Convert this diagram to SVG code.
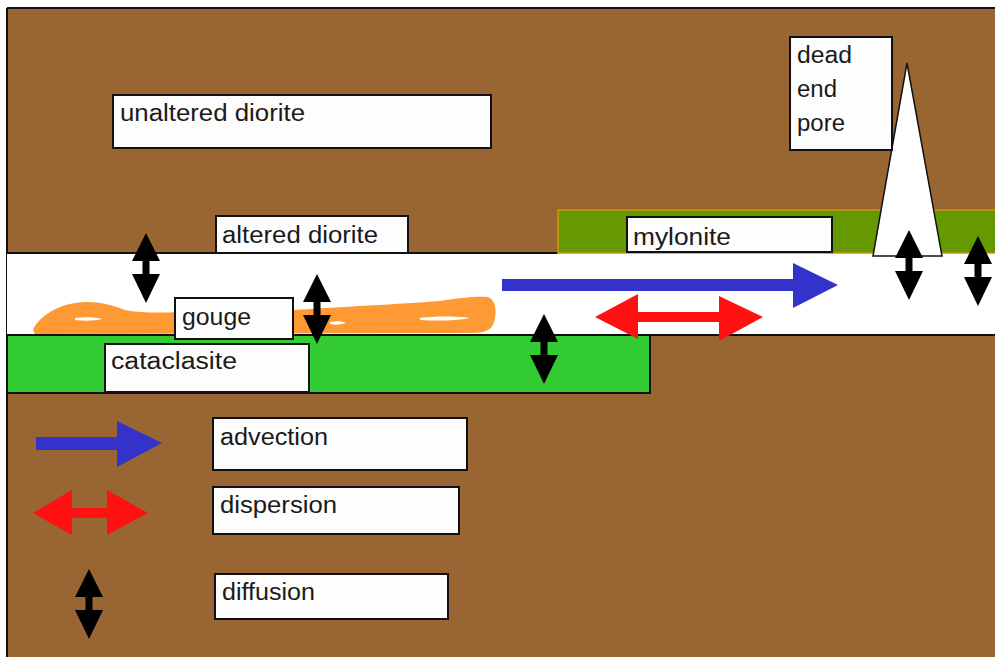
<svg xmlns="http://www.w3.org/2000/svg" xmlns:xlink="http://www.w3.org/1999/xlink" width="995" height="657" viewBox="0 0 995 657">
  <style>
    .rock { fill: #996633; }
    .label rect { fill: #fdfdfd; stroke: #111; stroke-width: 2; }
    .label text { font-family: "Liberation Sans", Arial, sans-serif; font-size: 23px; fill: #1a1a1a; }
    .diff { fill: #000; }
    .adv { fill: #3333cc; }
    .disp { fill: #ff1111; }
  </style>
  <defs>
    <!-- vertical double-headed arrow used for diffusion -->
    <path id="diffArrow" d="M0,-35 L14,-7 L3.5,-7 L3.5,6 L14,6 L0,35 L-14,6 L-3.5,6 L-3.5,-7 L-14,-7 Z"/>
  </defs>

  <rect x="0" y="0" width="995" height="657" fill="#ffffff"/>

  <!-- host rock -->
  <g id="host-rock">
    <rect class="rock" x="7" y="8" width="988" height="649"/>
    <line x1="7" y1="8" x2="995" y2="8" stroke="#111" stroke-width="2"/>
    <line x1="7" y1="8" x2="7" y2="657" stroke="#111" stroke-width="2"/>
  </g>

  <!-- open fracture band -->
  <g id="fracture">
    <rect x="7" y="253" width="988" height="82" fill="#ffffff"/>
    <line x1="7" y1="253" x2="558" y2="253" stroke="#111" stroke-width="2"/>
    <line x1="650" y1="335" x2="995" y2="335" stroke="#111" stroke-width="2"/>
  </g>

  <!-- mylonite layer -->
  <g id="mylonite-layer">
    <rect x="558" y="210" width="440" height="43" fill="#669900" stroke="#cc9900" stroke-width="1.5"/>
  </g>

  <!-- cataclasite layer -->
  <g id="cataclasite-layer">
    <rect x="7" y="335" width="643" height="58" fill="#33cc33" stroke="#111" stroke-width="2"/>
  </g>

  <!-- gouge smear -->
  <g id="gouge-layer">
    <path fill="#ff9933" d="M33,330 C38,318 55,306 75,303 C92,300 110,304 125,310 C140,313 160,313 180,312 L293,310 C340,307 400,304 440,301 C460,298 475,296 488,297 C496,300 497,312 494,322 C492,330 485,333 470,333 L35,334 Z"/>
    <path fill="#ffffff" d="M75,318 C85,317 95,317 102,319 C95,321 84,321 75,320 Z"/>
    <path fill="#ffffff" d="M330,322 C336,321 342,321 346,323 C340,325 334,325 330,324 Z"/>
    <path fill="#ffffff" d="M420,318 C435,316 455,316 470,318 C456,321 436,321 420,320 Z"/>
  </g>

  <!-- dead end pore -->
  <g id="dead-end-pore">
    <polygon points="907,63 942,256 873,256" fill="#ffffff" stroke="#111" stroke-width="1.5"/>
  </g>

  <!-- labels -->
  <g id="label-unaltered" class="label">
    <rect x="113" y="95" width="378" height="53"/>
    <text x="120" y="121" textLength="185" lengthAdjust="spacingAndGlyphs">unaltered diorite</text>
  </g>
  <g id="label-altered" class="label">
    <rect x="216" y="216" width="192" height="37"/>
    <text x="222" y="243" textLength="156" lengthAdjust="spacingAndGlyphs">altered diorite</text>
  </g>
  <g id="label-mylonite" class="label">
    <rect x="627" y="217" width="205" height="35"/>
    <text x="633" y="245" textLength="98" lengthAdjust="spacingAndGlyphs">mylonite</text>
  </g>
  <g id="label-pore" class="label">
    <rect x="790" y="37" width="102" height="113"/>
    <text x="797" y="63" font-size="24" textLength="55" lengthAdjust="spacingAndGlyphs">dead</text>
    <text x="797" y="97" font-size="24" textLength="40" lengthAdjust="spacingAndGlyphs">end</text>
    <text x="797" y="131" font-size="24" textLength="48" lengthAdjust="spacingAndGlyphs">pore</text>
  </g>
  <g id="label-gouge" class="label">
    <rect x="175" y="298" width="118" height="41"/>
    <text x="182" y="325" textLength="69" lengthAdjust="spacingAndGlyphs">gouge</text>
  </g>
  <g id="label-cataclasite" class="label">
    <rect x="105" y="344" width="204" height="48"/>
    <text x="111" y="369" textLength="126" lengthAdjust="spacingAndGlyphs">cataclasite</text>
  </g>
  <g id="label-advection" class="label">
    <rect x="213" y="418" width="254" height="52"/>
    <text x="220" y="445" textLength="108" lengthAdjust="spacingAndGlyphs">advection</text>
  </g>
  <g id="label-dispersion" class="label">
    <rect x="213" y="487" width="246" height="47"/>
    <text x="220" y="513" textLength="117" lengthAdjust="spacingAndGlyphs">dispersion</text>
  </g>
  <g id="label-diffusion" class="label">
    <rect x="215" y="574" width="233" height="45"/>
    <text x="222" y="600" textLength="93" lengthAdjust="spacingAndGlyphs">diffusion</text>
  </g>

  <!-- transport arrows -->
  <g id="arrows">
    <!-- advection -->
    <path class="adv" d="M502,279 L793,279 L793,263 L838,285 L793,308 L793,291 L502,291 Z"/>
    <path class="adv" d="M36,437 L117,437 L117,421 L162,443 L117,467 L117,450 L36,450 Z"/>
    <!-- dispersion -->
    <path class="disp" d="M595,317 L638,294 L638,312 L719,312 L719,296 L763,317 L719,341 L719,322 L638,322 L638,339 Z"/>
    <path class="disp" d="M33,513 L72,490 L72,508 L107,508 L107,490 L148,513 L107,535 L107,518 L72,518 L72,535 Z"/>
    <!-- diffusion -->
    <use xlink:href="#diffArrow" class="diff" x="146" y="268"/>
    <use xlink:href="#diffArrow" class="diff" x="317" y="309"/>
    <use xlink:href="#diffArrow" class="diff" x="544" y="349"/>
    <use xlink:href="#diffArrow" class="diff" x="909" y="265"/>
    <use xlink:href="#diffArrow" class="diff" x="978" y="271"/>
    <use xlink:href="#diffArrow" class="diff" x="89" y="604"/>
  </g>
</svg>
